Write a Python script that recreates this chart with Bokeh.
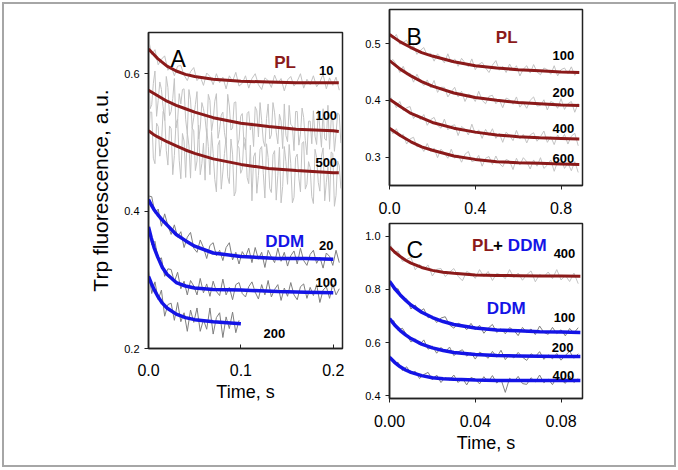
from bokeh.plotting import figure
from bokeh.layouts import row, column
from bokeh.models import Range1d, FixedTicker, Label, NumeralTickFormatter
from bokeh.embed import file_html
from bokeh.resources import INLINE

# ---------------- data ----------------
# Panel A: time grid (s) for raw traces
tA = [0.0, 0.0035, 0.007, 0.0105, 0.014, 0.0175, 0.021, 0.0245, 0.028, 0.0315,
      0.035, 0.0385, 0.042, 0.0455, 0.049, 0.0525, 0.056, 0.0595, 0.063, 0.0665,
      0.07, 0.0735, 0.077, 0.0805, 0.084, 0.0875, 0.091, 0.0945, 0.098, 0.1015,
      0.105, 0.1085, 0.112, 0.1155, 0.119, 0.1225, 0.126, 0.1295, 0.133, 0.1365,
      0.14, 0.1435, 0.147, 0.1505, 0.154, 0.1575, 0.161, 0.1645, 0.168, 0.1715,
      0.175, 0.1785, 0.182, 0.1855, 0.189, 0.1925, 0.196, 0.1995, 0.203, 0.2065]
tA_fine = [0.0, 0.00175, 0.0035, 0.00525, 0.007, 0.00875, 0.0105, 0.01225, 0.014, 0.01575,
           0.0175, 0.01925, 0.021, 0.02275, 0.0245, 0.02625, 0.028, 0.02975, 0.0315, 0.03325,
           0.035, 0.03675, 0.0385, 0.04025, 0.042, 0.04375, 0.0455, 0.04725, 0.049, 0.05075,
           0.0525, 0.05425, 0.056, 0.05775, 0.0595, 0.06125, 0.063, 0.06475, 0.0665, 0.06825,
           0.07, 0.07175, 0.0735, 0.07525, 0.077, 0.07875, 0.0805, 0.08225, 0.084, 0.08575,
           0.0875, 0.08925, 0.091, 0.09275, 0.0945, 0.09625, 0.098, 0.09975, 0.1015, 0.10325,
           0.105, 0.10675, 0.1085, 0.11025, 0.112, 0.11375, 0.1155, 0.11725, 0.119, 0.12075,
           0.1225, 0.12425, 0.126, 0.12775, 0.1295, 0.13125, 0.133, 0.13475, 0.1365, 0.13825,
           0.14, 0.14175, 0.1435, 0.14525, 0.147, 0.14875, 0.1505, 0.15225, 0.154, 0.15575,
           0.1575, 0.15925, 0.161, 0.16275, 0.1645, 0.16625, 0.168, 0.16975, 0.1715, 0.17325,
           0.175, 0.17675, 0.1785, 0.18025, 0.182, 0.18375, 0.1855, 0.18725, 0.189, 0.19075,
           0.1925, 0.19425, 0.196, 0.19775, 0.1995, 0.20125, 0.203, 0.20475, 0.2065, 0.20825]
A_PL10_raw = [0.650, 0.628, 0.635, 0.613, 0.621, 0.626, 0.605, 0.611, 0.597, 0.611,
              0.612, 0.598, 0.590, 0.603, 0.609, 0.590, 0.596, 0.583, 0.601, 0.596,
              0.584, 0.600, 0.587, 0.595, 0.578, 0.597, 0.589, 0.602, 0.582, 0.586,
              0.597, 0.579, 0.593, 0.600, 0.584, 0.577, 0.594, 0.590, 0.580, 0.598,
              0.586, 0.593, 0.575, 0.591, 0.596, 0.582, 0.589, 0.600, 0.579, 0.592,
              0.584, 0.597, 0.581, 0.588, 0.599, 0.578, 0.594, 0.583, 0.595, 0.576]
A_PL100_raw = [0.601, 0.549, 0.555, 0.586, 0.604, 0.538, 0.561, 0.588, 0.577, 0.552,
               0.532, 0.596, 0.580, 0.539, 0.545, 0.564, 0.593, 0.521, 0.531, 0.571,
               0.556, 0.577, 0.578, 0.533, 0.513, 0.577, 0.562, 0.521, 0.536, 0.555,
               0.574, 0.505, 0.521, 0.558, 0.549, 0.535, 0.511, 0.570, 0.561, 0.516,
               0.532, 0.560, 0.571, 0.506, 0.519, 0.540, 0.544, 0.514, 0.499, 0.570,
               0.553, 0.518, 0.521, 0.558, 0.559, 0.495, 0.504, 0.538, 0.542, 0.501,
               0.489, 0.542, 0.545, 0.518, 0.529, 0.494, 0.552, 0.546, 0.508, 0.558,
               0.532, 0.502, 0.494, 0.535, 0.556, 0.505, 0.511, 0.558, 0.543, 0.515,
               0.498, 0.541, 0.531, 0.491, 0.556, 0.510, 0.501, 0.554, 0.526, 0.524,
               0.488, 0.545, 0.545, 0.496, 0.512, 0.550, 0.536, 0.503, 0.482, 0.531,
               0.531, 0.498, 0.546, 0.509, 0.497, 0.547, 0.520, 0.493, 0.549, 0.505,
               0.503, 0.554, 0.490, 0.533, 0.535, 0.487, 0.512, 0.543, 0.540, 0.499]
A_PL500_raw = [0.497, 0.544, 0.544, 0.477, 0.469, 0.528, 0.523, 0.480, 0.497, 0.545,
               0.540, 0.488, 0.467, 0.524, 0.520, 0.453, 0.481, 0.528, 0.534, 0.474,
               0.447, 0.513, 0.502, 0.449, 0.514, 0.496, 0.448, 0.521, 0.517, 0.459,
               0.473, 0.525, 0.453, 0.469, 0.499, 0.445, 0.520, 0.494, 0.453, 0.515,
               0.484, 0.446, 0.428, 0.496, 0.503, 0.432, 0.457, 0.484, 0.507, 0.450,
               0.440, 0.505, 0.483, 0.422, 0.429, 0.496, 0.492, 0.455, 0.461, 0.507,
               0.505, 0.449, 0.440, 0.496, 0.415, 0.479, 0.485, 0.426, 0.452, 0.490,
               0.494, 0.455, 0.419, 0.498, 0.478, 0.433, 0.427, 0.482, 0.488, 0.416,
               0.452, 0.493, 0.412, 0.436, 0.494, 0.472, 0.439, 0.497, 0.469, 0.412,
               0.420, 0.478, 0.483, 0.448, 0.428, 0.499, 0.501, 0.432, 0.439, 0.472,
               0.463, 0.421, 0.411, 0.490, 0.478, 0.442, 0.429, 0.480, 0.492, 0.415,
               0.442, 0.464, 0.414, 0.486, 0.484, 0.407, 0.423, 0.473, 0.466, 0.433]
A_DDM20_raw = [0.422, 0.421, 0.397, 0.403, 0.378, 0.396, 0.379, 0.366, 0.380, 0.362,
               0.370, 0.347, 0.362, 0.369, 0.346, 0.340, 0.358, 0.347, 0.331, 0.350,
               0.354, 0.335, 0.343, 0.328, 0.347, 0.354, 0.329, 0.340, 0.323, 0.341,
               0.333, 0.346, 0.325, 0.347, 0.330, 0.340, 0.318, 0.343, 0.333, 0.325,
               0.346, 0.327, 0.340, 0.320, 0.335, 0.342, 0.323, 0.346, 0.328, 0.321,
               0.337, 0.343, 0.324, 0.333, 0.317, 0.339, 0.334, 0.321, 0.343, 0.325]
A_DDM100_raw = [0.380, 0.351, 0.356, 0.329, 0.332, 0.305, 0.316, 0.315, 0.297, 0.311,
                0.287, 0.298, 0.278, 0.299, 0.291, 0.278, 0.302, 0.281, 0.294, 0.276,
                0.298, 0.283, 0.277, 0.301, 0.278, 0.289, 0.271, 0.293, 0.296, 0.280,
                0.275, 0.290, 0.297, 0.282, 0.272, 0.293, 0.278, 0.299, 0.275, 0.286,
                0.293, 0.270, 0.288, 0.276, 0.296, 0.278, 0.271, 0.290, 0.294, 0.273,
                0.289, 0.277, 0.293, 0.267, 0.285, 0.290, 0.273, 0.294, 0.278, 0.287]
tA200 = [0.0, 0.0035, 0.007, 0.0105, 0.014, 0.0175, 0.021, 0.0245, 0.028, 0.0315,
         0.035, 0.0385, 0.042, 0.0455, 0.049, 0.0525, 0.056, 0.0595, 0.063, 0.0665,
         0.07, 0.0735, 0.077, 0.0805, 0.084, 0.0875, 0.091, 0.0945, 0.098]
A_DDM200_raw = [0.313, 0.280, 0.297, 0.271, 0.285, 0.247, 0.264, 0.266, 0.241, 0.267,
                0.239, 0.252, 0.225, 0.256, 0.238, 0.259, 0.225, 0.242, 0.228, 0.259,
                0.221, 0.245, 0.252, 0.216, 0.246, 0.229, 0.253, 0.223, 0.241]

# Panel A fitted curves
tA_fit = [0.0, 0.005, 0.01, 0.02, 0.03, 0.04, 0.05, 0.07, 0.1, 0.13, 0.16, 0.2, 0.206]
A_PL10_fit = [0.636, 0.629, 0.622, 0.611, 0.604, 0.599, 0.596, 0.592, 0.589, 0.588, 0.587, 0.587, 0.587]
A_PL100_fit = [0.576, 0.572, 0.568, 0.560, 0.554, 0.549, 0.544, 0.536, 0.528, 0.523, 0.519, 0.517, 0.516]
A_PL500_fit = [0.517, 0.512, 0.508, 0.501, 0.495, 0.489, 0.484, 0.476, 0.468, 0.462, 0.459, 0.456, 0.456]
tA_fit_ddm = [0.0, 0.003, 0.006, 0.01, 0.015, 0.02, 0.03, 0.04, 0.05, 0.07, 0.1, 0.14, 0.17, 0.2]
A_DDM20_fit = [0.417, 0.409, 0.402, 0.395, 0.387, 0.380, 0.366, 0.357, 0.349, 0.339, 0.334, 0.331, 0.331, 0.330]
A_DDM100_fit = [0.377, 0.361, 0.347, 0.333, 0.318, 0.308, 0.296, 0.291, 0.288, 0.286, 0.285, 0.283, 0.282, 0.281]
tA_fit_200 = [0.0, 0.003, 0.006, 0.01, 0.015, 0.02, 0.03, 0.04, 0.05, 0.07, 0.1]
A_DDM200_fit = [0.305, 0.295, 0.286, 0.276, 0.266, 0.259, 0.250, 0.245, 0.242, 0.239, 0.236]

# Panel B
tB = [0.0, 0.016, 0.032, 0.048, 0.064, 0.08, 0.096, 0.112, 0.128, 0.144,
      0.16, 0.176, 0.192, 0.208, 0.224, 0.24, 0.256, 0.272, 0.288, 0.304,
      0.32, 0.336, 0.352, 0.368, 0.384, 0.4, 0.416, 0.432, 0.448, 0.464,
      0.48, 0.496, 0.512, 0.528, 0.544, 0.56, 0.576, 0.592, 0.608, 0.624,
      0.64, 0.656, 0.672, 0.688, 0.704, 0.72, 0.736, 0.752, 0.768, 0.784,
      0.8, 0.816, 0.832, 0.848, 0.864, 0.88]
B_100_raw = [0.522, 0.509, 0.516, 0.499, 0.502, 0.506, 0.490, 0.496, 0.481, 0.488,
             0.493, 0.479, 0.483, 0.469, 0.482, 0.474, 0.466, 0.482, 0.466, 0.473,
             0.460, 0.474, 0.466, 0.459, 0.473, 0.454, 0.463, 0.467, 0.457, 0.449,
             0.462, 0.470, 0.453, 0.460, 0.449, 0.464, 0.453, 0.461, 0.443, 0.455,
             0.461, 0.448, 0.463, 0.450, 0.445, 0.457, 0.454, 0.446, 0.461, 0.443,
             0.454, 0.457, 0.447, 0.459, 0.444, 0.452]
B_200_raw = [0.466, 0.472, 0.463, 0.449, 0.460, 0.445, 0.448, 0.432, 0.446, 0.434,
             0.426, 0.436, 0.422, 0.435, 0.414, 0.423, 0.423, 0.406, 0.415, 0.423,
             0.406, 0.416, 0.398, 0.411, 0.408, 0.398, 0.416, 0.400, 0.394, 0.407,
             0.409, 0.394, 0.401, 0.387, 0.404, 0.401, 0.393, 0.406, 0.388, 0.396,
             0.386, 0.400, 0.406, 0.390, 0.391, 0.401, 0.383, 0.398, 0.395, 0.386,
             0.403, 0.384, 0.394, 0.398, 0.379, 0.395]
B_400_raw = [0.409, 0.399, 0.387, 0.398, 0.382, 0.387, 0.389, 0.368, 0.375, 0.366,
             0.375, 0.356, 0.366, 0.370, 0.356, 0.351, 0.367, 0.348, 0.355, 0.357,
             0.338, 0.354, 0.349, 0.339, 0.358, 0.341, 0.348, 0.333, 0.349, 0.338,
             0.350, 0.333, 0.342, 0.326, 0.344, 0.338, 0.329, 0.347, 0.332, 0.340,
             0.325, 0.339, 0.343, 0.328, 0.336, 0.346, 0.326, 0.336, 0.322, 0.339,
             0.330, 0.340, 0.323, 0.337, 0.342, 0.320]
B_600_raw = [0.354, 0.341, 0.350, 0.336, 0.340, 0.323, 0.332, 0.335, 0.318, 0.321,
             0.310, 0.324, 0.310, 0.316, 0.299, 0.314, 0.307, 0.298, 0.314, 0.298,
             0.304, 0.291, 0.305, 0.310, 0.292, 0.294, 0.303, 0.284, 0.298, 0.301,
             0.287, 0.302, 0.289, 0.283, 0.296, 0.293, 0.278, 0.298, 0.286, 0.299,
             0.292, 0.279, 0.295, 0.284, 0.299, 0.280, 0.286, 0.295, 0.275, 0.292,
             0.297, 0.280, 0.289, 0.276, 0.292, 0.273]
tB_fit = [0.0, 0.05, 0.1, 0.15, 0.2, 0.3, 0.4, 0.5, 0.6, 0.7, 0.8, 0.885]
B_100_fit = [0.516, 0.503, 0.493, 0.484, 0.478, 0.468, 0.461, 0.457, 0.454, 0.452, 0.450, 0.449]
B_200_fit = [0.470, 0.455, 0.443, 0.433, 0.425, 0.413, 0.405, 0.400, 0.396, 0.394, 0.392, 0.391]
B_400_fit = [0.402, 0.389, 0.377, 0.369, 0.361, 0.351, 0.344, 0.339, 0.336, 0.334, 0.333, 0.332]
B_600_fit = [0.351, 0.338, 0.327, 0.318, 0.312, 0.302, 0.296, 0.292, 0.290, 0.289, 0.288, 0.287]

# Panel C
tC = [0.0, 0.002, 0.004, 0.006, 0.008, 0.01, 0.012, 0.014, 0.016, 0.018,
      0.02, 0.022, 0.024, 0.026, 0.028, 0.03, 0.032, 0.034, 0.036, 0.038,
      0.04, 0.042, 0.044, 0.046, 0.048, 0.05, 0.052, 0.054, 0.056, 0.058,
      0.06, 0.062, 0.064, 0.066, 0.068, 0.07, 0.072, 0.074, 0.076, 0.078,
      0.08, 0.082, 0.084, 0.086, 0.088]
C_PLDDM_raw = [0.979, 0.935, 0.944, 0.905, 0.912, 0.920, 0.873, 0.894, 0.876, 0.891,
               0.850, 0.875, 0.878, 0.848, 0.864, 0.878, 0.849, 0.832, 0.867, 0.859,
               0.841, 0.874, 0.847, 0.867, 0.833, 0.860, 0.854, 0.840, 0.874, 0.844,
               0.861, 0.834, 0.855, 0.869, 0.828, 0.856, 0.847, 0.865, 0.840, 0.874,
               0.835, 0.852, 0.829, 0.861, 0.821]
C_100_raw = [0.836, 0.798, 0.802, 0.766, 0.764, 0.726, 0.741, 0.716, 0.727, 0.693,
             0.699, 0.675, 0.692, 0.697, 0.666, 0.654, 0.673, 0.665, 0.648, 0.672,
             0.648, 0.665, 0.635, 0.654, 0.668, 0.638, 0.652, 0.633, 0.656, 0.646,
             0.626, 0.657, 0.638, 0.651, 0.630, 0.662, 0.638, 0.631, 0.657, 0.634,
             0.648, 0.625, 0.653, 0.636, 0.656]
C_200_raw = [0.685, 0.682, 0.645, 0.654, 0.629, 0.602, 0.614, 0.591, 0.610, 0.575,
             0.587, 0.560, 0.582, 0.565, 0.583, 0.551, 0.565, 0.573, 0.549, 0.562,
             0.538, 0.564, 0.555, 0.541, 0.567, 0.545, 0.571, 0.536, 0.555, 0.542,
             0.563, 0.545, 0.533, 0.558, 0.547, 0.566, 0.537, 0.554, 0.539, 0.559,
             0.534, 0.552, 0.567, 0.541, 0.558]
C_400_raw = [0.553, 0.522, 0.526, 0.495, 0.509, 0.484, 0.492, 0.465, 0.480, 0.488,
             0.460, 0.478, 0.450, 0.469, 0.459, 0.478, 0.450, 0.467, 0.441, 0.469,
             0.462, 0.445, 0.472, 0.452, 0.476, 0.448, 0.462, 0.413, 0.466, 0.453,
             0.473, 0.446, 0.443, 0.468, 0.452, 0.478, 0.449, 0.463, 0.442, 0.470,
             0.460, 0.447, 0.474, 0.450, 0.465]
tC_fit = [0.0, 0.0025, 0.005, 0.0075, 0.01, 0.015, 0.02, 0.025, 0.03, 0.04, 0.05, 0.06, 0.07, 0.08, 0.089]
C_PLDDM_fit = [0.959, 0.939, 0.923, 0.909, 0.898, 0.882, 0.871, 0.864, 0.860, 0.854, 0.852, 0.851, 0.850, 0.850, 0.849]
C_100_fit = [0.830, 0.802, 0.779, 0.759, 0.741, 0.714, 0.694, 0.679, 0.668, 0.655, 0.647, 0.644, 0.641, 0.640, 0.638]
C_200_fit = [0.690, 0.665, 0.645, 0.629, 0.615, 0.594, 0.580, 0.570, 0.563, 0.555, 0.551, 0.550, 0.549, 0.548, 0.548]
C_400_fit = [0.545, 0.525, 0.509, 0.497, 0.488, 0.476, 0.468, 0.464, 0.462, 0.459, 0.458, 0.458, 0.458, 0.458, 0.4575]

# ---------------- style ----------------
FONT = "Liberation Sans"
MAROON = "#8b1a1a"
BLUE = "#1414e6"
LIGHT = "#c3c3c3"
DARK = "#7f7f7f"


def base_fig(width, height, xr, yr, left, right, top, bottom):
    p = figure(width=width, height=height, x_range=Range1d(*xr), y_range=Range1d(*yr),
               output_backend="svg", toolbar_location=None,
               min_border_left=left, min_border_right=right,
               min_border_top=top, min_border_bottom=bottom)
    p.xgrid.visible = False
    p.ygrid.visible = False
    p.outline_line_color = "#222222"
    p.outline_line_width = 1.5
    p.outline_line_alpha = 1.0
    p.background_fill_color = "white"
    p.border_fill_color = "white"
    for ax in (p.xaxis[0], p.yaxis[0]):
        ax.axis_line_color = "#222222"
        ax.axis_line_width = 1.5
        ax.major_tick_line_color = "#222222"
        ax.major_tick_line_width = 1
        ax.minor_tick_line_color = None
        ax.major_label_text_font = FONT
        ax.major_label_text_color = "black"
        ax.axis_label_text_font = FONT
        ax.axis_label_text_font_style = "normal"
        ax.axis_label_text_color = "black"
    p.yaxis[0].major_tick_out = 4
    p.yaxis[0].major_tick_in = 0
    p.yaxis[0].major_label_text_font_size = "11px"
    p.yaxis[0].major_label_standoff = 5
    p.xaxis[0].major_label_text_font_size = "16px"
    return p


def lbl(p, x, y, text, size, color="black", bold=True, align="left"):
    p.add_layout(Label(x=x, y=y, text=text, text_font=FONT, text_font_size=size,
                       text_font_style="bold" if bold else "normal",
                       text_color=color, text_align=align, text_baseline="alphabetic"))


# Panel A
pA = base_fig(351, 461, (0.0, 0.21), (0.2, 0.66), 144, 13, 28, 117)
pA.xaxis[0].ticker = FixedTicker(ticks=[0.0, 0.1, 0.2])
pA.yaxis[0].ticker = FixedTicker(ticks=[0.2, 0.4, 0.6])
pA.xaxis[0].formatter = NumeralTickFormatter(format="0.0")
pA.yaxis[0].formatter = NumeralTickFormatter(format="0.0")
pA.xaxis[0].major_tick_in = 4
pA.xaxis[0].major_tick_out = 0
pA.xaxis[0].major_label_standoff = 15
pA.xaxis[0].axis_label = "Time, s"
pA.xaxis[0].axis_label_text_font_size = "18px"
pA.xaxis[0].axis_label_standoff = 3
pA.yaxis[0].axis_label = "Trp fluorescence, a.u."
pA.yaxis[0].axis_label_text_font_size = "21px"
pA.yaxis[0].axis_label_standoff = 9

pA.line(tA, A_PL10_raw, color=LIGHT, line_width=1)
pA.line(tA_fine, A_PL100_raw, color=LIGHT, line_width=1)
pA.line(tA_fine, A_PL500_raw, color=LIGHT, line_width=1)
pA.line(tA, A_DDM20_raw, color=DARK, line_width=1)
pA.line(tA, A_DDM100_raw, color=DARK, line_width=1)
pA.line(tA200, A_DDM200_raw, color=DARK, line_width=1)
pA.line(tA_fit, A_PL10_fit, color=MAROON, line_width=3)
pA.line(tA_fit, A_PL100_fit, color=MAROON, line_width=3)
pA.line(tA_fit, A_PL500_fit, color=MAROON, line_width=3)
pA.line(tA_fit_ddm, A_DDM20_fit, color=BLUE, line_width=3.5)
pA.line(tA_fit_ddm, A_DDM100_fit, color=BLUE, line_width=3.5)
pA.line(tA_fit_200, A_DDM200_fit, color=BLUE, line_width=3.5)

lbl(pA, 0.0238, 0.622, "A", "23px", bold=False)
lbl(pA, 0.136, 0.616, "PL", "17px", color=MAROON)
lbl(pA, 0.1924, 0.6044, "10", "13px", align="center")
lbl(pA, 0.1924, 0.5389, "100", "13px", align="center")
lbl(pA, 0.1924, 0.4705, "500", "13px", align="center")
lbl(pA, 0.1265, 0.3556, "DDM", "17px", color=BLUE)
lbl(pA, 0.1924, 0.3498, "20", "13px", align="center")
lbl(pA, 0.1924, 0.296, "100", "13px", align="center")
lbl(pA, 0.1362, 0.2218, "200", "13px", align="center")

# Panel B
pB = base_fig(319, 212, (0.0, 0.9), (0.25, 0.56), 34, 92, 5, 31)
pB.xaxis[0].ticker = FixedTicker(ticks=[0.0, 0.4, 0.8])
pB.yaxis[0].ticker = FixedTicker(ticks=[0.3, 0.4, 0.5])
pB.xaxis[0].formatter = NumeralTickFormatter(format="0.0")
pB.yaxis[0].formatter = NumeralTickFormatter(format="0.0")
pB.xaxis[0].major_tick_out = 4
pB.xaxis[0].major_tick_in = 0
pB.xaxis[0].major_label_standoff = 12

for raw in (B_100_raw, B_200_raw, B_400_raw, B_600_raw):
    pB.line(tB, raw, color=LIGHT, line_width=1)
for fit in (B_100_fit, B_200_fit, B_400_fit, B_600_fit):
    pB.line(tB_fit, fit, color=MAROON, line_width=3)

lbl(pB, 0.079, 0.512, "B", "23px", bold=False)
lbl(pB, 0.496, 0.511, "PL", "17px", color=MAROON)
lbl(pB, 0.811, 0.4787, "100", "13px", align="center")
lbl(pB, 0.811, 0.413, "200", "13px", align="center")
lbl(pB, 0.811, 0.3508, "400", "13px", align="center")
lbl(pB, 0.811, 0.2975, "600", "13px", align="center")

# Panel C
pC = base_fig(319, 249, (0.0, 0.09), (0.39, 1.047), 34, 92, 7, 67)
pC.xaxis[0].ticker = FixedTicker(ticks=[0.0, 0.04, 0.08])
pC.yaxis[0].ticker = FixedTicker(ticks=[0.4, 0.6, 0.8, 1.0])
pC.xaxis[0].formatter = NumeralTickFormatter(format="0.00")
pC.yaxis[0].formatter = NumeralTickFormatter(format="0.0")
pC.xaxis[0].major_tick_out = 4
pC.xaxis[0].major_tick_in = 0
pC.xaxis[0].major_label_standoff = 12
pC.xaxis[0].axis_label = "Time, s"
pC.xaxis[0].axis_label_text_font_size = "18px"
pC.xaxis[0].axis_label_standoff = 3

pC.line(tC, C_PLDDM_raw, color=LIGHT, line_width=1)
for raw in (C_100_raw, C_200_raw, C_400_raw):
    pC.line(tC, raw, color=DARK, line_width=1)
pC.line(tC_fit, C_PLDDM_fit, color=MAROON, line_width=3)
for fit in (C_100_fit, C_200_fit, C_400_fit):
    pC.line(tC_fit, fit, color=BLUE, line_width=3.5)

lbl(pC, 0.0079, 0.946, "C", "23px", bold=False)
lbl(pC, 0.0385, 0.965, "PL", "17px", color=MAROON)
lbl(pC, 0.0483, 0.965, "+", "17px", color="black")
lbl(pC, 0.0552, 0.965, "DDM", "17px", color=BLUE)
lbl(pC, 0.0816, 0.935, "400", "13px", align="center")
lbl(pC, 0.0454, 0.728, "DDM", "17px", color=BLUE)
lbl(pC, 0.0816, 0.6944, "100", "13px", align="center")
lbl(pC, 0.0807, 0.5816, "200", "13px", align="center")
lbl(pC, 0.0811, 0.4763, "400", "13px", align="center")

layout = row(pA, column(pB, pC, spacing=0), spacing=0,
             styles={"border": "2px solid #a6a6a6", "margin": "2px 0 0 2px"})

open("out.html", "w").write(file_html(layout, INLINE))
